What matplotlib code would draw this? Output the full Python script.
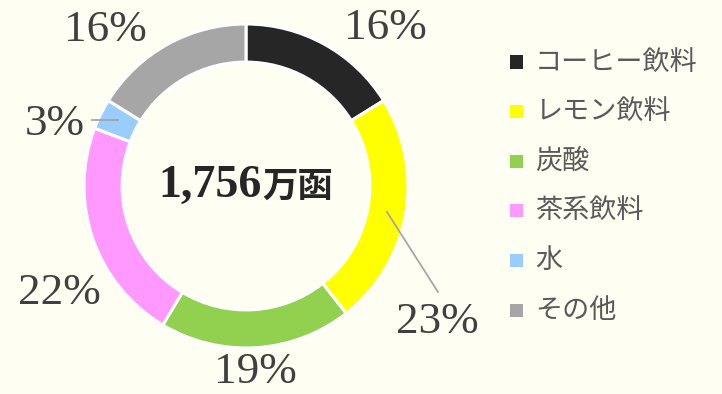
import matplotlib
matplotlib.use("Agg")
import matplotlib.pyplot as plt
from matplotlib.patches import Rectangle

# Drink categories and their share (%)
categories = ["コーヒー飲料", "レモン飲料", "炭酸", "茶系飲料", "水", "その他"]
shares = [16, 23, 19, 22, 3, 16]
colors = ["#262626", "#FFFF00", "#92D050", "#FF99FF", "#99CCFF", "#A6A6A6"]
total_label_num = "1,756"
total_label_unit = "万函"

BG = "#FEFEF2"
W, H = 722, 394
cx, cy, R = 246, 186, 162  # donut centre and radius in pixels

fig = plt.figure(figsize=(W / 100, H / 100), dpi=100, facecolor=BG)
ax = fig.add_axes([0, 0, 1, 1])
ax.set_facecolor(BG)

ax.pie(shares, colors=colors, startangle=90, counterclock=False, radius=1.0,
       wedgeprops=dict(width=0.235, edgecolor="white", linewidth=2.2))

# pixel-true limits (same scale on both axes)
ax.set_aspect("auto")
ax.set_xlim(-cx / R, (W - cx) / R)
ax.set_ylim(-(H - cy) / R, cy / R)
ax.axis("off")

# Percentage labels (x, y in units of the outer radius)
label_pos = [(0.86, 0.975), (1.18, -0.84), (0.06, -1.15),
             (-1.15, -0.66), (-1.18, 0.385), (-0.87, 0.965)]
serif = ["Liberation Serif", "DejaVu Serif"]
for v, (x, y) in zip(shares, label_pos):
    ax.text(x, y, f"{v}%", ha="center", va="center", fontsize=32.5,
            family=serif, color="#404040")

# Leader lines
ax.plot([0.87, 1.185], [-0.16, -0.654], color="#A6A6A6", lw=1.3)
ax.plot([-0.95, -0.79], [0.407, 0.407], color="#A6A6A6", lw=1.3)

# Total in the centre
ax.text(0.10, 0.0, total_label_num, ha="right", va="center", fontsize=33,
        family=serif, fontweight="bold", color="#262626")
ax.text(0.10, 0.0, total_label_unit, ha="left", va="center", fontsize=25.5,
        family=["Noto Sans CJK JP"], fontweight="bold", color="#262626")

# Legend
row0, step = 62, 49.6
for i, (name, c) in enumerate(zip(categories, colors)):
    yc = row0 + i * step
    fig.patches.append(Rectangle((510 / W, 1 - (yc + 6.5) / H), 13 / W, 13 / H,
                                 transform=fig.transFigure, facecolor=c,
                                 edgecolor="none"))
    fig.text(535 / W, 1 - yc / H, name, ha="left", va="center", fontsize=19.5,
             family=["Noto Sans CJK JP", "DejaVu Sans"], color="#595959")

fig.savefig("out.png", dpi=100, facecolor=BG)
